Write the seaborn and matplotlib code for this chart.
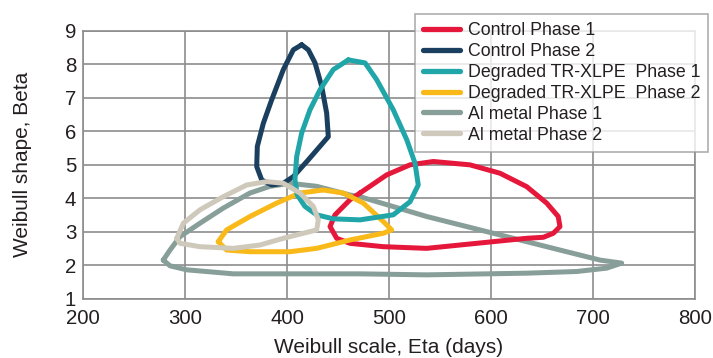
import matplotlib
matplotlib.use("Agg")
import matplotlib.pyplot as plt
import seaborn as sns
import pandas as pd

# ---- data ----
series_names = ["Control Phase 1", "Control Phase 2",
                "Degraded TR-XLPE  Phase 1", "Degraded TR-XLPE  Phase 2",
                "Al metal Phase 1", "Al metal Phase 2"]
colors = ["#E5173B", "#1B3F5E", "#20A6A9", "#F9B919", "#889E98", "#CEC9BB"]

ctrl1_eta = [471.6, 461.8, 447.1, 442.2, 448.7, 461.8, 494.4, 536.9, 569.6, 602.3, 635.0,
             651.3, 661.1, 667.6, 665.9, 654.6, 635.0, 608.8, 579.4, 543.5, 520.6, 497.7, 471.6]
ctrl1_beta = [4.16, 3.96, 3.51, 3.16, 2.81, 2.66, 2.56, 2.51, 2.61, 2.71, 2.81,
              2.84, 2.96, 3.16, 3.46, 3.86, 4.35, 4.75, 5.00, 5.10, 5.00, 4.70, 4.16]

ctrl2_eta = [414.4, 406.2, 396.4, 385.0, 376.8, 370.9, 370.3, 375.2, 385.0, 396.4, 406.2,
             420.9, 440.5, 438.9, 434.0, 427.5, 420.9, 414.4]
ctrl2_beta = [8.58, 8.43, 7.84, 6.94, 6.24, 5.55, 4.95, 4.55, 4.40, 4.45, 4.65,
              5.15, 5.84, 6.54, 7.34, 8.04, 8.43, 8.58]

deg1_eta = [460.1, 445.4, 432.4, 422.5, 414.4, 409.5, 407.8, 410.1, 417.6, 429.1, 445.4,
            471.6, 504.2, 520.6, 528.7, 525.5, 517.4, 504.2, 487.9, 476.5, 460.1]
deg1_beta = [8.13, 7.84, 7.24, 6.64, 5.95, 5.25, 4.55, 4.10, 3.76, 3.51, 3.39,
             3.36, 3.51, 3.90, 4.40, 5.05, 5.75, 6.64, 7.54, 8.04, 8.13]

deg2_eta = [332.6, 340.8, 363.7, 389.9, 412.7, 435.6, 455.2, 474.8, 494.4, 502.6, 494.4,
            461.8, 429.1, 402.9, 363.7, 340.8, 332.6]
deg2_beta = [2.71, 3.06, 3.46, 3.86, 4.16, 4.25, 4.16, 3.86, 3.31, 3.06, 2.96,
             2.76, 2.51, 2.41, 2.41, 2.46, 2.71]

al1_eta = [278.7, 285.3, 295.1, 314.7, 337.5, 363.7, 383.3, 402.9, 429.1, 461.8, 471.6,
           536.9, 602.3, 667.6, 706.9, 728.1, 713.4, 684.0, 635.0, 536.9, 471.6, 347.4,
           301.7, 285.3, 278.7]
al1_beta = [2.16, 2.46, 2.86, 3.26, 3.71, 4.16, 4.36, 4.45, 4.36, 4.10, 4.05,
            3.46, 2.96, 2.46, 2.16, 2.07, 1.92, 1.82, 1.77, 1.72, 1.75, 1.75,
            1.87, 1.99, 2.16]

al2_eta = [291.9, 298.4, 314.7, 337.5, 360.5, 380.1, 396.4, 412.7, 425.8, 430.7, 429.1,
           416.0, 396.4, 373.5, 347.4, 314.7, 295.1, 291.9]
al2_beta = [2.81, 3.26, 3.66, 4.05, 4.40, 4.50, 4.45, 4.16, 3.76, 3.36, 3.06,
            2.96, 2.81, 2.61, 2.51, 2.56, 2.66, 2.81]

x_ticks = [200, 300, 400, 500, 600, 700, 800]
y_ticks = [1, 2, 3, 4, 5, 6, 7, 8, 9]

etas = [ctrl1_eta, ctrl2_eta, deg1_eta, deg2_eta, al1_eta, al2_eta]
betas = [ctrl1_beta, ctrl2_beta, deg1_beta, deg2_beta, al1_beta, al2_beta]

rows = []
for name, ex, by in zip(series_names, etas, betas):
    for i, (e, b) in enumerate(zip(ex, by)):
        rows.append({"eta": e, "beta": b, "series": name, "order": i})
df = pd.DataFrame(rows)

# ---- plot ----
sns.set_theme(style="white")
plt.rcParams["font.family"] = ["Liberation Sans", "DejaVu Sans"]

TXT = "#231f20"
fig = plt.figure(figsize=(7.13, 3.58), dpi=100)
ax = fig.add_axes([83/713, 1 - 299/358, (695 - 83)/713, (299 - 30.7)/358])

palette = dict(zip(series_names, colors))
sns.lineplot(data=df, x="eta", y="beta", hue="series", hue_order=series_names,
             palette=palette, sort=False, estimator=None, linewidth=3.6,
             ax=ax, legend=True)

zorders = {"Al metal Phase 1": 3, "Control Phase 1": 4, "Degraded TR-XLPE  Phase 2": 5,
           "Control Phase 2": 6, "Degraded TR-XLPE  Phase 1": 7, "Al metal Phase 2": 8}
for line, name in zip(ax.lines[:len(series_names)], series_names):
    line.set_zorder(zorders[name])
    line.set_solid_joinstyle("round")
    line.set_solid_capstyle("round")

ax.set_xlim(200, 800)
ax.set_ylim(1, 9)
ax.set_xticks(x_ticks)
ax.set_yticks(y_ticks)
ax.grid(True, color="#8c8c8c", linewidth=1.2)
ax.set_axisbelow(True)
for s in ax.spines.values():
    s.set_color("#8c8c8c")
    s.set_linewidth(1.2)
ax.tick_params(axis="both", length=0, labelsize=14.7, colors=TXT)
ax.tick_params(axis="x", pad=7.2)
ax.tick_params(axis="y", pad=5)
ax.set_xlabel("Weibull scale, Eta (days)", fontsize=15, color=TXT)
ax.set_ylabel("Weibull shape, Beta", fontsize=15, color=TXT)
ax.xaxis.set_label_coords(0.5, -0.145)
ax.yaxis.set_label_coords(-0.083, 0.5)

handles, labels = ax.get_legend_handles_labels()
for h in handles:
    h.set_linewidth(3.8)
leg = ax.legend(handles, labels, loc="upper right",
                bbox_to_anchor=(708/713, 1 - 14/358), bbox_transform=fig.transFigure,
                fontsize=12.8, frameon=True, fancybox=False, borderaxespad=0,
                handlelength=2.1, handletextpad=0.4, labelspacing=0.22, borderpad=0.45)
leg.get_frame().set_edgecolor("#999999")
leg.get_frame().set_linewidth(1.2)
leg.set_zorder(10)
for t in leg.get_texts():
    t.set_color(TXT)

fig.savefig("out.png", dpi=100)
